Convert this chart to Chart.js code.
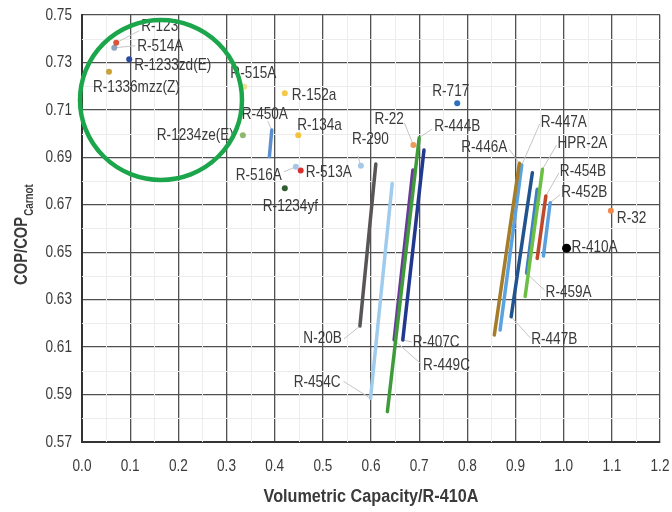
<!DOCTYPE html>
<html>
<head>
<meta charset="utf-8">
<script src="https://cdn.jsdelivr.net/npm/chart.js@4.4.1/dist/chart.umd.min.js"></script>
<style>
  html, body { margin: 0; padding: 0; background: #ffffff; }
  #wrap { width: 672px; height: 512px; }
</style>
</head>
<body>
<div id="wrap"><canvas id="c" width="672" height="512"></canvas></div>
<script>
// ---------- DATA ----------
// Single-point refrigerants
const pointNames = ["R-123","R-514A","R-1233zd(E)","R-1336mzz(Z)","R-1234ze(E)","R-515A","R-152a","R-134a",
                    "R-516A","R-513A","R-1234yf","R-290","R-22","R-717","R-32","R-410A"];
const pointCapacity = [0.071,0.067,0.098,0.056,0.334,0.337,0.421,0.449,0.444,0.454,0.421,0.579,0.688,0.779,1.098,1.006];
const pointCOP      = [0.7383,0.7362,0.7313,0.7261,0.6993,0.7198,0.7170,0.6993,0.6860,0.6844,0.6770,0.6864,0.6952,0.7128,0.6675,0.6517];

// Glide blends: low end and high end of each line
const lineNames = ["R-450A","N-20B","R-454C","R-444B","R-449C","R-407C",
                   "R-446A","R-447A","R-447B","HPR-2A","R-459A","R-454B","R-452B"];
const lineCapLow  = [0.389,0.577,0.599,0.634,0.648,0.666,0.856,0.868,0.891,0.920,0.923,0.945,0.958];
const lineCOPLow  = [0.6903,0.6189,0.5884,0.5828,0.6130,0.6130,0.6151,0.6172,0.6228,0.6313,0.6411,0.6474,0.6484];
const lineCapHigh = [0.394,0.610,0.644,0.700,0.687,0.710,0.908,0.913,0.935,0.956,0.945,0.963,0.972];
const lineCOPHigh = [0.7015,0.6872,0.6790,0.6982,0.6847,0.6931,0.6875,0.6868,0.6835,0.6850,0.6765,0.6737,0.6709];

const xTickValues = [0.0,0.1,0.2,0.3,0.4,0.5,0.6,0.7,0.8,0.9,1.0,1.1,1.2];
const yTickValues = [0.57,0.59,0.61,0.63,0.65,0.67,0.69,0.71,0.73,0.75];

// ---------- STYLES ----------
const pointColors = ["#d9553a","#8fa3bf","#2c4aa3","#c9a23a","#8dba6a","#f1df90","#f2c94a","#f0c23e",
                     "#a8c4e6","#d9322e","#2f5e30","#a6c8e6","#f0975a","#2f6fbf","#f0884a","#000000"];
const lineColors = ["#5b8fd0","#5a5555","#9fcbed","#3f9a3a","#6a3a9c","#22388f",
                    "#a57d28","#5ba3e0","#21538f","#6cbf45","#3f7fc6","#c0482a","#5aa0e0"];

// label placement: offsets (px) from the anchor mark; leader end offset (px) or null
// anchor: 'pt' = point, 'lo' = low end of line, 'hi' = high end of line
const labelLayout = [
  {name:"R-123",        anchor:"pt", dx:25,  dy:-16, align:"left",  lead:[23,-12]},
  {name:"R-514A",       anchor:"pt", dx:23,  dy:-1,  align:"left",  lead:[21,-2]},
  {name:"R-1233zd(E)",  anchor:"pt", dx:5,   dy:6,   align:"left",  lead:null},
  {name:"R-1336mzz(Z)", anchor:"pt", dx:-16, dy:16,  align:"left",  lead:null},
  {name:"R-1234ze(E)",  anchor:"pt", dx:-9,  dy:0,   align:"right", lead:null},
  {name:"R-515A",       anchor:"pt", dx:-14, dy:-13, align:"left",  lead:null},
  {name:"R-152a",       anchor:"pt", dx:7,   dy:2,   align:"left",  lead:null},
  {name:"R-134a",       anchor:"pt", dx:-1,  dy:-10, align:"left",  lead:null},
  {name:"R-516A",       anchor:"pt", dx:-14, dy:8,   align:"right", lead:[-12,5]},
  {name:"R-513A",       anchor:"pt", dx:5,   dy:2,   align:"left",  lead:null},
  {name:"R-1234yf",     anchor:"pt", dx:-22, dy:18,  align:"left",  lead:null},
  {name:"R-290",        anchor:"pt", dx:-9,  dy:-27, align:"left",  lead:[-3,-10]},
  {name:"R-22",         anchor:"pt", dx:-39, dy:-26, align:"left",  lead:[-9,-22]},
  {name:"R-717",        anchor:"pt", dx:-25, dy:-12, align:"left",  lead:null},
  {name:"R-32",         anchor:"pt", dx:6,   dy:8,   align:"left",  lead:null},
  {name:"R-410A",       anchor:"pt", dx:5,   dy:-1,  align:"left",  lead:null},
  {name:"R-450A",       anchor:"hi", dx:-30, dy:-16, align:"left",  lead:[-4,-9]},
  {name:"R-444B",       anchor:"hi", dx:15,  dy:-12, align:"left",  lead:[13,-9]},
  {name:"N-20B",        anchor:"lo", dx:-18, dy:12,  align:"right", lead:[-16,13]},
  {name:"R-454C",       anchor:"lo", dx:-30, dy:-16, align:"right", lead:[-27,-17]},
  {name:"R-407C",       anchor:"lo", dx:10,  dy:2,   align:"left",  lead:[9,2]},
  {name:"R-449C",       anchor:"lo", dx:29,  dy:25,  align:"left",  lead:[27,24]},
  {name:"R-446A",       anchor:"hi", dx:-12, dy:-16, align:"right", lead:[-10,-14]},
  {name:"R-447A",       anchor:"hi", dx:19,  dy:-43, align:"left",  lead:[18,-41]},
  {name:"HPR-2A",       anchor:"hi", dx:15,  dy:-26, align:"left",  lead:[14,-24]},
  {name:"R-454B",       anchor:"hi", dx:14,  dy:-25, align:"left",  lead:[13,-23]},
  {name:"R-452B",       anchor:"hi", dx:11,  dy:-10, align:"left",  lead:[10,-8]},
  {name:"R-459A",       anchor:"lo", dx:19,  dy:19,  align:"left",  lead:[18,17]},
  {name:"R-447B",       anchor:"lo", dx:20,  dy:23,  align:"left",  lead:[19,21]}
];

// highlight ring (centre in data units, radius in px)
const ringCenter = {x:0.164, y:0.7142};

const FONT = '"Liberation Sans", Arial, sans-serif';
const TEXT = "#3a3a3a";
const SQUEEZE = 0.8;   // horizontal compression to imitate a condensed face

function condensedText(ctx, text, x, y, font, align, baseline, sx) {
  ctx.save();
  ctx.font = font;
  ctx.textBaseline = baseline || "middle";
  const w = ctx.measureText(text).width * sx;
  let left = x;
  if (align === "right") left = x - w;
  else if (align === "center") left = x - w / 2;
  ctx.translate(left, y);
  ctx.scale(sx, 1);
  ctx.textAlign = "left";
  ctx.fillText(text, 0, 0);
  ctx.restore();
  return w;
}

// ---------- DATASETS ----------
const datasets = [];
lineNames.forEach((n, i) => {
  datasets.push({
    label: n, type: "scatter", showLine: true,
    data: [{x: lineCapLow[i], y: lineCOPLow[i]}, {x: lineCapHigh[i], y: lineCOPHigh[i]}],
    borderColor: lineColors[i], backgroundColor: lineColors[i],
    borderWidth: 3.5, borderCapStyle: "round", pointRadius: 0
  });
});
pointNames.forEach((n, i) => {
  datasets.push({
    label: n, type: "scatter",
    data: [{x: pointCapacity[i], y: pointCOP[i]}],
    backgroundColor: pointColors[i], borderColor: pointColors[i], borderWidth: 0,
    pointRadius: n === "R-410A" ? 4.5 : 3
  });
});

function anchorPixel(chart, lay) {
  const xs = chart.scales.x, ys = chart.scales.y;
  if (lay.anchor === "pt") {
    const i = pointNames.indexOf(lay.name);
    return [xs.getPixelForValue(pointCapacity[i]), ys.getPixelForValue(pointCOP[i])];
  }
  const i = lineNames.indexOf(lay.name);
  if (lay.anchor === "lo") return [xs.getPixelForValue(lineCapLow[i]), ys.getPixelForValue(lineCOPLow[i])];
  return [xs.getPixelForValue(lineCapHigh[i]), ys.getPixelForValue(lineCOPHigh[i])];
}

const decorPlugin = {
  id: "decor",
  beforeDatasetsDraw(chart) {
    const ctx = chart.ctx, a = chart.chartArea;
    const xs = chart.scales.x, ys = chart.scales.y;
    ctx.save();
    ctx.strokeStyle = "#ececec";
    ctx.lineWidth = 1;
    for (let k = 0; k < xTickValues.length - 1; k++) {
      const v = (xTickValues[k] + xTickValues[k+1]) / 2;
      const px = Math.round(xs.getPixelForValue(v)) + 0.5;
      ctx.beginPath(); ctx.moveTo(px, a.top); ctx.lineTo(px, a.bottom); ctx.stroke();
    }
    for (let k = 0; k < yTickValues.length - 1; k++) {
      const v = (yTickValues[k] + yTickValues[k+1]) / 2;
      const py = Math.round(ys.getPixelForValue(v)) + 0.5;
      ctx.beginPath(); ctx.moveTo(a.left, py); ctx.lineTo(a.right, py); ctx.stroke();
    }
    // leader lines
    ctx.strokeStyle = "#c4c4c4";
    ctx.lineWidth = 1;
    labelLayout.forEach(l => {
      if (!l.lead) return;
      const [ax, ay] = anchorPixel(chart, l);
      ctx.beginPath(); ctx.moveTo(ax, ay); ctx.lineTo(ax + l.lead[0], ay + l.lead[1]); ctx.stroke();
    });
    ctx.restore();
  },
  afterDatasetsDraw(chart) {
    const ctx = chart.ctx, a = chart.chartArea;
    const xs = chart.scales.x, ys = chart.scales.y;
    ctx.save();
    ctx.fillStyle = TEXT;
    // tick labels
    xTickValues.forEach(v => {
      condensedText(ctx, v.toFixed(1), xs.getPixelForValue(v), a.bottom + 24, "17px " + FONT, "center", "middle", SQUEEZE);
    });
    yTickValues.forEach(v => {
      condensedText(ctx, v.toFixed(2), a.left - 10, ys.getPixelForValue(v), "17px " + FONT, "right", "middle", SQUEEZE);
    });
    // labels
    labelLayout.forEach(l => {
      const [ax, ay] = anchorPixel(chart, l);
      condensedText(ctx, l.name, ax + l.dx, ay + l.dy, "17px " + FONT, l.align, "middle", SQUEEZE);
    });
    // highlight ring
    ctx.strokeStyle = "#1ca64c";
    ctx.lineWidth = 4.5;
    ctx.beginPath();
    ctx.ellipse(xs.getPixelForValue(ringCenter.x), ys.getPixelForValue(ringCenter.y), 81, 80, 0, 0, Math.PI * 2);
    ctx.stroke();
    // x title
    condensedText(ctx, "Volumetric Capacity/R-410A", (a.left + a.right) / 2, 497, "bold 18px " + FONT, "center", "middle", 0.9);
    // y title with subscript
    ctx.translate(27, 234.5);
    ctx.rotate(-Math.PI / 2);
    ctx.font = "bold 18px " + FONT;
    const w1 = ctx.measureText("COP/COP").width * 0.82;
    ctx.font = "bold 12px " + FONT;
    const w2 = ctx.measureText("Carnot").width * 0.82;
    const start = -(w1 + w2 + 1) / 2;
    condensedText(ctx, "COP/COP", start, 0, "bold 18px " + FONT, "left", "alphabetic", 0.82);
    condensedText(ctx, "Carnot", start + w1 + 1, 6, "bold 12px " + FONT, "left", "alphabetic", 0.82);
    ctx.restore();
  }
};

new Chart(document.getElementById("c"), {
  type: "scatter",
  data: { datasets },
  options: {
    responsive: false,
    animation: false,
    events: [],
    layout: { padding: { top: 15, right: 12, left: 0, bottom: 0 } },
    plugins: { legend: { display: false }, tooltip: { enabled: false } },
    scales: {
      x: {
        type: "linear", min: 0, max: 1.2,
        afterFit(s) { s.height = 70; },
        afterBuildTicks(s) { s.ticks = xTickValues.map(v => ({value: v})); },
        ticks: { display: false },
        grid: { color: "#505050", lineWidth: 1.3, drawTicks: false },
        border: { color: "#333333", width: 2 }
      },
      y: {
        type: "linear", min: 0.57, max: 0.75,
        afterFit(s) { s.width = 82; },
        afterBuildTicks(s) { s.ticks = yTickValues.map(v => ({value: v})); },
        ticks: { display: false },
        grid: { color: "#505050", lineWidth: 1.3, drawTicks: false },
        border: { color: "#333333", width: 2 }
      }
    }
  },
  plugins: [decorPlugin]
});
</script>
</body>
</html>
